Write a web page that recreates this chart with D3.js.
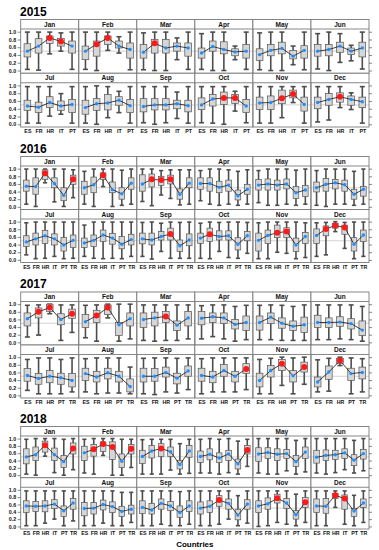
<!DOCTYPE html>
<html lang="en">
<head>
<meta charset="UTF-8">
<title>Monthly distributions by country, 2015-2018</title>
<script src="https://d3js.org/d3.v7.min.js"></script>
<style>
    body {
        margin: 0;
        background-color: #fff;
    }
    svg {
        display: block;
        font-family: "Liberation Sans", Arial, Helvetica, sans-serif;
    }
    .year-title {
        font-size: 12px;
        font-weight: bold;
        fill: #000;
    }
    .strip-label {
        font-size: 6.5px;
        font-weight: bold;
        fill: #111;
    }
    .axis text {
        font-size: 5.3px;
        font-weight: bold;
        fill: #111;
    }
    .axis line {
        stroke: #555;
        stroke-width: 0.7;
    }
    .panel-border {
        fill: none;
        stroke: #7a7a7a;
        stroke-width: 0.9;
    }
    .ref-line {
        stroke: #c8c8c8;
        stroke-width: 0.8;
    }
    .whisker {
        stroke: #4d4d4d;
        stroke-width: 1.6;
    }
    .box {
        fill: #d6d6d6;
        stroke: #555;
        stroke-width: 0.7;
    }
    .mean-line {
        fill: none;
        stroke: #111;
        stroke-width: 0.8;
    }
</style>
</head>
<body>
<svg id="chart" width="379" height="550"></svg>

<script>
const months = ["Jan", "Feb", "Mar", "Apr", "May", "Jun", "Jul", "Aug", "Sep", "Oct", "Nov", "Dec"];
const yTicks = [0, 0.2, 0.4, 0.6, 0.8, 1.0];

// ---- 2015 ----
const countries2015 = ["ES", "FR", "HR", "IT", "PT"];
const mean2015 = [
    [0.50, 0.63, 0.84, 0.75, 0.63], [0.50, 0.68, 0.84, 0.63, 0.54], [0.47, 0.70, 0.58, 0.63, 0.58],
    [0.45, 0.62, 0.54, 0.48, 0.50], [0.41, 0.52, 0.57, 0.37, 0.52], [0.50, 0.54, 0.63, 0.50, 0.58],
    [0.47, 0.44, 0.56, 0.47, 0.51], [0.43, 0.53, 0.55, 0.62, 0.48], [0.46, 0.50, 0.50, 0.53, 0.48],
    [0.50, 0.65, 0.68, 0.68, 0.47], [0.55, 0.56, 0.67, 0.78, 0.51], [0.56, 0.64, 0.71, 0.64, 0.58]
];
const q1_2015 = [
    [0.35, 0.45, 0.70, 0.63, 0.45], [0.28, 0.37, 0.67, 0.58, 0.32], [0.32, 0.45, 0.45, 0.50, 0.37],
    [0.32, 0.50, 0.43, 0.38, 0.32], [0.26, 0.38, 0.43, 0.30, 0.32], [0.37, 0.38, 0.47, 0.41, 0.35],
    [0.36, 0.30, 0.43, 0.36, 0.30], [0.26, 0.36, 0.37, 0.49, 0.30], [0.32, 0.37, 0.37, 0.40, 0.32],
    [0.38, 0.47, 0.51, 0.54, 0.30], [0.38, 0.38, 0.53, 0.68, 0.34], [0.40, 0.49, 0.57, 0.49, 0.43]
];
const q3_2015 = [
    [0.69, 0.82, 0.89, 0.83, 0.76], [0.63, 0.76, 0.89, 0.76, 0.71], [0.67, 0.80, 0.80, 0.71, 0.71],
    [0.58, 0.76, 0.74, 0.56, 0.67], [0.56, 0.67, 0.73, 0.52, 0.64], [0.67, 0.67, 0.73, 0.58, 0.73],
    [0.62, 0.57, 0.71, 0.60, 0.64], [0.62, 0.66, 0.77, 0.71, 0.64], [0.66, 0.66, 0.66, 0.62, 0.62],
    [0.68, 0.77, 0.83, 0.77, 0.64], [0.70, 0.73, 0.88, 0.88, 0.70], [0.70, 0.79, 0.81, 0.73, 0.70]
];
const lo2015 = [
    [0.03, 0.01, 0.43, 0.50, 0.03], [0.03, 0.00, 0.52, 0.45, 0.02], [0.02, 0.00, 0.00, 0.28, 0.03],
    [0.03, 0.00, 0.00, 0.28, 0.03], [0.02, 0.00, 0.00, 0.15, 0.02], [0.04, 0.00, 0.21, 0.25, 0.04],
    [0.03, 0.03, 0.21, 0.26, 0.03], [0.03, 0.00, 0.17, 0.30, 0.03], [0.04, 0.00, 0.04, 0.15, 0.03],
    [0.04, 0.03, 0.00, 0.34, 0.04], [0.03, 0.03, 0.17, 0.56, 0.03], [0.06, 0.11, 0.43, 0.38, 0.03]
];
const hi2015 = [
    [0.99, 0.99, 0.99, 0.97, 0.99], [0.99, 0.99, 0.99, 0.87, 0.99], [0.97, 0.99, 0.99, 0.84, 0.99],
    [0.95, 0.99, 0.99, 0.63, 0.99], [0.97, 0.99, 0.99, 0.63, 0.99], [0.95, 0.99, 0.95, 0.65, 0.99],
    [0.97, 0.97, 0.97, 0.79, 0.97], [0.97, 0.99, 0.97, 0.85, 0.97], [0.97, 0.97, 0.97, 0.83, 0.97],
    [0.97, 0.97, 0.97, 0.85, 0.97], [0.97, 0.97, 0.97, 0.97, 0.97], [0.97, 0.97, 0.97, 0.81, 0.97]
];
const red2015 = [["HR", "IT"], ["FR", "HR"], ["FR"], [], [], [], [], [], [], ["HR", "IT"], ["HR", "IT"], ["HR"]];

// ---- 2016 ----
const countries2016 = ["ES", "FR", "HR", "IT", "PT", "TR"];
const mean2016 = [
    [0.54, 0.53, 0.88, 0.61, 0.30, 0.72], [0.50, 0.58, 0.83, 0.45, 0.34, 0.62], [0.60, 0.72, 0.70, 0.72, 0.33, 0.62],
    [0.61, 0.61, 0.51, 0.57, 0.29, 0.46], [0.57, 0.60, 0.57, 0.60, 0.37, 0.44], [0.50, 0.59, 0.63, 0.58, 0.33, 0.46],
    [0.47, 0.55, 0.63, 0.55, 0.39, 0.51], [0.44, 0.51, 0.65, 0.57, 0.41, 0.53], [0.55, 0.52, 0.61, 0.68, 0.37, 0.52],
    [0.57, 0.67, 0.61, 0.63, 0.41, 0.63], [0.51, 0.64, 0.71, 0.74, 0.39, 0.61], [0.64, 0.81, 0.90, 0.85, 0.41, 0.65]
];
const q1_2016 = [
    [0.41, 0.33, 0.72, 0.50, 0.16, 0.59], [0.33, 0.37, 0.72, 0.37, 0.20, 0.46], [0.41, 0.52, 0.56, 0.60, 0.20, 0.50],
    [0.46, 0.41, 0.37, 0.41, 0.18, 0.33], [0.44, 0.44, 0.44, 0.47, 0.22, 0.27], [0.39, 0.41, 0.47, 0.41, 0.20, 0.28],
    [0.35, 0.39, 0.43, 0.39, 0.23, 0.32], [0.32, 0.35, 0.48, 0.41, 0.29, 0.39], [0.42, 0.39, 0.52, 0.52, 0.22, 0.37],
    [0.43, 0.48, 0.52, 0.52, 0.26, 0.50], [0.23, 0.43, 0.58, 0.58, 0.22, 0.43], [0.43, 0.63, 0.83, 0.67, 0.23, 0.48]
];
const q3_2016 = [
    [0.70, 0.76, 0.97, 0.76, 0.50, 0.83], [0.67, 0.78, 0.89, 0.65, 0.50, 0.76], [0.84, 0.86, 0.80, 0.83, 0.47, 0.76],
    [0.76, 0.76, 0.67, 0.70, 0.44, 0.59], [0.72, 0.73, 0.70, 0.73, 0.53, 0.56], [0.65, 0.74, 0.72, 0.70, 0.46, 0.53],
    [0.63, 0.70, 0.77, 0.68, 0.59, 0.65], [0.57, 0.65, 0.78, 0.69, 0.61, 0.67], [0.70, 0.70, 0.74, 0.83, 0.52, 0.68],
    [0.70, 0.83, 0.76, 0.76, 0.58, 0.74], [0.70, 0.78, 0.91, 0.84, 0.57, 0.72], [0.81, 0.89, 0.96, 0.91, 0.58, 0.78]
];
const lo2016 = [
    [0.07, 0.01, 0.63, 0.13, 0.01, 0.24], [0.07, 0.01, 0.53, 0.01, 0.04, 0.07], [0.14, 0.03, 0.31, 0.22, 0.05, 0.07],
    [0.16, 0.07, 0.04, 0.07, 0.04, 0.07], [0.11, 0.04, 0.04, 0.07, 0.04, 0.07], [0.04, 0.01, 0.07, 0.07, 0.04, 0.07],
    [0.13, 0.03, 0.04, 0.09, 0.03, 0.04], [0.09, 0.04, 0.03, 0.04, 0.03, 0.09], [0.09, 0.02, 0.22, 0.04, 0.04, 0.04],
    [0.04, 0.03, 0.22, 0.06, 0.04, 0.17], [0.03, 0.03, 0.20, 0.17, 0.03, 0.06], [0.09, 0.13, 0.74, 0.30, 0.03, 0.09]
];
const hi2016 = [
    [0.99, 0.99, 0.99, 0.99, 0.99, 0.97], [0.93, 0.99, 0.99, 0.99, 0.96, 0.99], [0.99, 0.99, 0.95, 0.97, 0.97, 0.97],
    [0.95, 0.99, 0.99, 0.97, 0.93, 0.97], [0.95, 0.99, 0.99, 0.99, 0.96, 0.99], [0.95, 0.99, 0.99, 0.99, 0.93, 0.99],
    [0.97, 0.99, 0.99, 0.99, 0.99, 0.99], [0.91, 0.99, 0.99, 0.99, 0.99, 0.99], [0.98, 0.99, 0.96, 0.99, 0.98, 0.99],
    [0.96, 0.99, 0.98, 0.99, 0.99, 0.98], [0.97, 0.99, 0.99, 0.99, 0.99, 0.97], [0.97, 0.98, 1.00, 0.98, 0.99, 0.99]
];
const red2016 = [["HR", "TR"], ["HR"], ["FR", "HR", "IT"], [], [], [], [], [], ["IT"], ["FR"], ["HR", "IT"], ["FR", "HR", "IT"]];

// ---- 2017 ----
const countries2017 = ["ES", "FR", "HR", "PT", "TR"];
const mean2017 = [
    [0.62, 0.80, 0.91, 0.60, 0.75], [0.54, 0.70, 0.91, 0.46, 0.62], [0.60, 0.64, 0.68, 0.45, 0.64],
    [0.63, 0.67, 0.64, 0.47, 0.52], [0.52, 0.66, 0.50, 0.42, 0.46], [0.52, 0.52, 0.53, 0.49, 0.32],
    [0.52, 0.44, 0.50, 0.46, 0.39], [0.57, 0.48, 0.59, 0.50, 0.23], [0.50, 0.50, 0.60, 0.45, 0.64],
    [0.52, 0.48, 0.65, 0.50, 0.69], [0.39, 0.65, 0.83, 0.51, 0.74], [0.35, 0.61, 0.91, 0.57, 0.60]
];
const q1_2017 = [
    [0.43, 0.64, 0.81, 0.46, 0.63], [0.39, 0.52, 0.73, 0.18, 0.43], [0.39, 0.43, 0.52, 0.31, 0.43],
    [0.46, 0.52, 0.49, 0.35, 0.31], [0.32, 0.49, 0.37, 0.31, 0.26], [0.39, 0.39, 0.42, 0.35, 0.18],
    [0.37, 0.29, 0.33, 0.29, 0.22], [0.39, 0.35, 0.43, 0.35, 0.09], [0.35, 0.37, 0.48, 0.30, 0.50],
    [0.37, 0.33, 0.50, 0.35, 0.57], [0.22, 0.48, 0.65, 0.35, 0.61], [0.22, 0.42, 0.84, 0.39, 0.43]
];
const q3_2017 = [
    [0.77, 0.90, 1.00, 0.75, 0.87], [0.73, 0.84, 0.98, 0.52, 0.77], [0.77, 0.79, 0.81, 0.56, 0.81],
    [0.81, 0.77, 0.77, 0.60, 0.69], [0.69, 0.77, 0.64, 0.56, 0.66], [0.71, 0.64, 0.67, 0.62, 0.56],
    [0.70, 0.57, 0.65, 0.58, 0.57], [0.71, 0.63, 0.71, 0.63, 0.43], [0.71, 0.70, 0.74, 0.58, 0.77],
    [0.71, 0.63, 0.81, 0.63, 0.83], [0.58, 0.78, 0.94, 0.65, 0.87], [0.48, 0.77, 0.97, 0.71, 0.74]
];
const lo2017 = [
    [0.14, 0.19, 0.75, 0.05, 0.26], [0.12, 0.03, 0.64, 0.03, 0.09], [0.05, 0.03, 0.05, 0.05, 0.09],
    [0.09, 0.15, 0.09, 0.03, 0.07], [0.07, 0.07, 0.05, 0.05, 0.05], [0.07, 0.07, 0.09, 0.07, 0.03],
    [0.13, 0.04, 0.04, 0.04, 0.09], [0.09, 0.04, 0.06, 0.06, 0.04], [0.04, 0.02, 0.09, 0.06, 0.15],
    [0.04, 0.09, 0.09, 0.09, 0.15], [0.04, 0.04, 0.26, 0.04, 0.29], [0.09, 0.11, 0.78, 0.04, 0.09]
];
const hi2017 = [
    [0.97, 0.98, 1.00, 0.98, 0.98], [0.97, 0.98, 1.00, 1.00, 1.00], [0.98, 0.98, 0.98, 0.98, 0.98],
    [0.96, 0.98, 0.98, 0.94, 0.97], [0.97, 0.98, 0.97, 0.94, 0.98], [0.98, 0.98, 0.98, 0.98, 0.94],
    [0.94, 0.98, 0.98, 0.94, 0.98], [0.96, 0.98, 0.98, 0.98, 0.74], [0.97, 0.98, 0.98, 0.97, 0.98],
    [0.96, 0.98, 0.98, 0.98, 0.98], [0.94, 0.97, 1.00, 0.98, 1.00], [0.93, 0.97, 1.00, 0.98, 0.96]
];
const red2017 = [["FR", "HR", "TR"], ["FR", "HR"], ["HR"], [], [], [], [], [], [], ["TR"], ["HR", "TR"], ["HR"]];

// ---- 2018 ----
const countries2018 = ["ES", "FR", "HR", "IT", "PT", "TR"];
const mean2018 = [
    [0.50, 0.56, 0.82, 0.56, 0.37, 0.73], [0.61, 0.71, 0.85, 0.77, 0.38, 0.72], [0.51, 0.66, 0.73, 0.64, 0.29, 0.66],
    [0.51, 0.57, 0.47, 0.58, 0.31, 0.69], [0.58, 0.62, 0.57, 0.59, 0.37, 0.63], [0.49, 0.54, 0.56, 0.61, 0.41, 0.59],
    [0.56, 0.55, 0.56, 0.61, 0.43, 0.64], [0.49, 0.50, 0.60, 0.54, 0.41, 0.47], [0.52, 0.45, 0.63, 0.56, 0.38, 0.56],
    [0.50, 0.55, 0.72, 0.63, 0.31, 0.61], [0.56, 0.62, 0.77, 0.64, 0.32, 0.66], [0.56, 0.55, 0.85, 0.76, 0.42, 0.64]
];
const q1_2018 = [
    [0.31, 0.40, 0.63, 0.40, 0.21, 0.58], [0.40, 0.52, 0.65, 0.43, 0.21, 0.58], [0.32, 0.47, 0.51, 0.51, 0.17, 0.49],
    [0.35, 0.42, 0.35, 0.40, 0.17, 0.58], [0.38, 0.46, 0.40, 0.46, 0.24, 0.46], [0.33, 0.40, 0.43, 0.46, 0.26, 0.44],
    [0.38, 0.41, 0.40, 0.49, 0.27, 0.47], [0.29, 0.34, 0.45, 0.38, 0.27, 0.34], [0.35, 0.34, 0.47, 0.43, 0.25, 0.41],
    [0.34, 0.38, 0.55, 0.47, 0.18, 0.47], [0.38, 0.47, 0.64, 0.49, 0.20, 0.52], [0.38, 0.36, 0.76, 0.47, 0.27, 0.52]
];
const q3_2018 = [
    [0.72, 0.77, 0.93, 0.74, 0.54, 0.88], [0.79, 0.84, 0.91, 0.91, 0.58, 0.84], [0.68, 0.81, 0.86, 0.77, 0.40, 0.81],
    [0.66, 0.72, 0.61, 0.68, 0.44, 0.81], [0.75, 0.75, 0.72, 0.70, 0.54, 0.77], [0.68, 0.69, 0.68, 0.72, 0.56, 0.70],
    [0.70, 0.68, 0.70, 0.73, 0.56, 0.76], [0.65, 0.65, 0.72, 0.67, 0.55, 0.58], [0.70, 0.63, 0.75, 0.68, 0.56, 0.70],
    [0.67, 0.70, 0.84, 0.75, 0.47, 0.73], [0.70, 0.78, 0.88, 0.76, 0.43, 0.79], [0.75, 0.76, 0.90, 0.86, 0.49, 0.75]
];
const lo2018 = [
    [0.03, 0.00, 0.52, 0.07, 0.00, 0.15], [0.06, 0.03, 0.54, 0.00, 0.00, 0.21], [0.03, 0.03, 0.03, 0.14, 0.03, 0.05],
    [0.06, 0.06, 0.03, 0.07, 0.03, 0.24], [0.06, 0.03, 0.03, 0.12, 0.03, 0.09], [0.06, 0.03, 0.07, 0.15, 0.06, 0.12],
    [0.02, 0.02, 0.09, 0.20, 0.02, 0.15], [0.02, 0.02, 0.09, 0.02, 0.02, 0.11], [0.02, 0.02, 0.06, 0.02, 0.02, 0.06],
    [0.02, 0.02, 0.06, 0.20, 0.02, 0.09], [0.00, 0.02, 0.11, 0.06, 0.02, 0.11], [0.02, 0.02, 0.52, 0.06, 0.02, 0.11]
];
const hi2018 = [
    [0.98, 1.00, 1.00, 1.00, 0.98, 1.00], [0.98, 1.00, 1.00, 1.00, 0.98, 0.98], [0.97, 0.98, 0.98, 0.98, 0.86, 0.98],
    [0.98, 1.00, 0.98, 1.00, 0.93, 0.98], [1.00, 1.00, 1.00, 1.00, 0.95, 1.00], [1.00, 1.00, 1.00, 1.00, 0.95, 1.00],
    [0.97, 0.97, 0.97, 0.97, 0.97, 0.97], [0.97, 0.97, 0.97, 0.97, 0.93, 0.93], [0.97, 0.97, 0.97, 0.97, 0.95, 0.97],
    [0.97, 0.97, 0.97, 0.97, 0.84, 0.97], [0.97, 0.97, 0.97, 0.97, 0.88, 0.97], [0.97, 0.97, 0.97, 0.97, 0.85, 0.97]
];
const red2018 = [["HR", "TR"], ["FR", "HR", "IT", "TR"], ["HR"], ["TR"], [], [], [], [], [], ["HR"], ["HR", "TR"], ["HR", "IT"]];

// table built from the arrays above, plus where each year block sits
const years = [
    { year: "2015", countries: countries2015, mean: mean2015, q1: q1_2015, q3: q3_2015, lo: lo2015, hi: hi2015, red: red2015, top: 19.5, h: 107.5 },
    { year: "2016", countries: countries2016, mean: mean2016, q1: q1_2016, q3: q3_2016, lo: lo2016, hi: hi2016, red: red2016, top: 156.5, h: 106 },
    { year: "2017", countries: countries2017, mean: mean2017, q1: q1_2017, q3: q3_2017, lo: lo2017, hi: hi2017, red: red2017, top: 292, h: 106 },
    { year: "2018", countries: countries2018, mean: mean2018, q1: q1_2018, q3: q3_2018, lo: lo2018, hi: hi2018, red: red2018, top: 426.5, h: 102.5 }
];

const svg = d3.select("#chart");
const left = 20.7, right = 369;
const nCol = 6;
const colW = (right - left) / nCol;
const stripH = 9.5;

years.forEach(yr => {
    svg.append("text")
        .attr("class", "year-title")
        .attr("x", 20)
        .attr("y", yr.top - 4)
        .text(yr.year);

    const rowH = yr.h / 2;
    const plotH = rowH - stripH;

    const x = d3.scalePoint().domain(yr.countries).range([0, colW]).padding(0.6);
    const y = d3.scaleLinear().domain([-0.07, 1.07]).range([stripH + plotH, stripH]);
    const boxW = x.step() * 0.6;
    const capW = x.step() * 0.45;

    months.forEach((m, mi) => {
        const col = mi % nCol, row = Math.floor(mi / nCol);
        const g = svg.append("g")
            .attr("transform", `translate(${left + col * colW},${yr.top + row * rowH})`);

        const rows = yr.countries.map((c, ci) => ({
            country: c,
            mean: yr.mean[mi][ci],
            q1: yr.q1[mi][ci],
            q3: yr.q3[mi][ci],
            lo: yr.lo[mi][ci],
            hi: yr.hi[mi][ci],
            red: yr.red[mi].includes(c)
        }));

        // strip
        g.append("rect")
            .attr("x", 0).attr("y", 0)
            .attr("width", colW).attr("height", stripH)
            .attr("fill", "#fff");
        g.append("text")
            .attr("class", "strip-label")
            .attr("x", colW / 2)
            .attr("y", stripH / 2)
            .attr("dy", "0.36em")
            .attr("text-anchor", "middle")
            .text(m);

        g.append("line")
            .attr("class", "ref-line")
            .attr("x1", 0).attr("x2", colW)
            .attr("y1", y(0.5)).attr("y2", y(0.5));

        // whiskers + caps
        const wk = g.selectAll(".wk").data(rows).enter().append("g");
        wk.append("line")
            .attr("class", "whisker")
            .attr("x1", d => x(d.country)).attr("x2", d => x(d.country))
            .attr("y1", d => y(d.lo)).attr("y2", d => y(d.hi));
        wk.append("line")
            .attr("class", "whisker")
            .attr("x1", d => x(d.country) - capW / 2).attr("x2", d => x(d.country) + capW / 2)
            .attr("y1", d => y(d.lo)).attr("y2", d => y(d.lo));
        wk.append("line")
            .attr("class", "whisker")
            .attr("x1", d => x(d.country) - capW / 2).attr("x2", d => x(d.country) + capW / 2)
            .attr("y1", d => y(d.hi)).attr("y2", d => y(d.hi));

        g.selectAll(".box").data(rows).enter().append("rect")
            .attr("class", "box")
            .attr("x", d => x(d.country) - boxW / 2)
            .attr("width", boxW)
            .attr("y", d => y(d.q3))
            .attr("height", d => y(d.q1) - y(d.q3));

        g.append("path")
            .datum(rows)
            .attr("class", "mean-line")
            .attr("d", d3.line().x(d => x(d.country)).y(d => y(d.mean)));

        g.selectAll(".pt").data(rows).enter().append("circle")
            .attr("cx", d => x(d.country))
            .attr("cy", d => y(d.mean))
            .attr("r", d => d.red ? 3 : 1.7)
            .attr("fill", d => d.red ? "#ff1a1a" : "#1e8fff");

        // borders
        g.append("rect")
            .attr("class", "panel-border")
            .attr("width", colW).attr("height", rowH);
        g.append("line")
            .attr("class", "panel-border")
            .attr("x1", 0).attr("x2", colW)
            .attr("y1", stripH).attr("y2", stripH);

        if (col === 0) {
            const ax = g.append("g").attr("class", "axis")
                .call(d3.axisLeft(y).tickValues(yTicks).tickFormat(d3.format(".1f")).tickSize(3).tickPadding(1.5));
            ax.select(".domain").remove();
        }
        if (col === nCol - 1) {
            const ax = g.append("g").attr("class", "axis")
                .attr("transform", `translate(${colW},0)`)
                .call(d3.axisRight(y).tickValues(yTicks).tickFormat("").tickSize(3));
            ax.select(".domain").remove();
        }
        if (row === 1) {
            const ax = g.append("g").attr("class", "axis")
                .attr("transform", `translate(0,${rowH})`)
                .call(d3.axisBottom(x).tickSize(0).tickPadding(2.5));
            ax.select(".domain").remove();
        }
    });
});

svg.append("text")
    .attr("x", (left + right) / 2)
    .attr("y", 547)
    .attr("text-anchor", "middle")
    .style("font-size", "8px")
    .style("font-weight", "bold")
    .text("Countries");
</script>
</body>
</html>
